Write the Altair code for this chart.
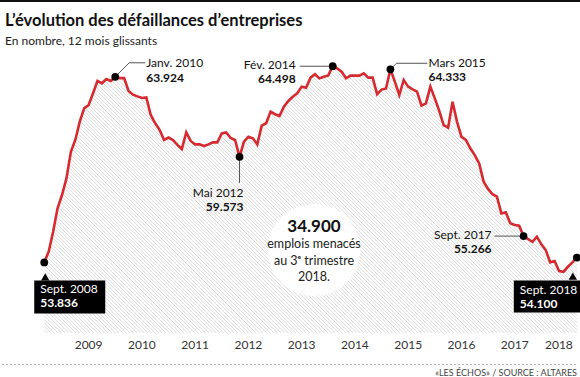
import altair as alt
import pandas as pd

TITLE = "L’évolution des défaillances d’entreprises"
SUBTITLE = "En nombre, 12 mois glissants"
SOURCE = "«LES ÉCHOS» / SOURCE : ALTARES"

# Monthly series (12-month rolling number of business failures), Sept 2008 -> Sept 2018
start_year = 2008
start_month = 9
values = [
    53836, 54420, 55500, 56780, 57500, 58400, 59850, 60490, 61490, 62210, 62390, 63030,
    63700, 63570, 63800, 63700, 63924, 63850, 63850, 63150, 62950, 62860, 62770, 62800,
    61850, 61400, 61040, 60490, 60620, 60490, 60220, 60000, 60910, 60440, 60250, 60250,
    60160, 60250, 60360, 60360, 60850, 60900, 60600, 60490, 59573, 60400, 60670, 60580,
    60250, 61270, 61400, 62030, 61890, 61790, 62300, 62610, 62840, 63030, 63390, 63330,
    63880, 64060, 63840, 63930, 64000, 64498, 64380, 64200, 63840, 63990, 63990, 63990,
    64110, 63880, 63880, 62980, 63230, 63290, 64333, 63660, 62935, 63750, 63390, 63240,
    63120, 62360, 62480, 63390, 62750, 62070, 61300, 61160, 62570, 61490, 60670, 60490,
    60040, 59670, 59220, 58225, 57830, 57540, 57410, 56500, 56560, 55960, 55870, 55830,
    55266, 55110, 54960, 55235, 54820, 54510, 53840, 53910, 53370, 53330, 53600, 53840,
    54100,
]
months = [start_year + (start_month - 1 + i) / 12 for i in range(len(values))]

years = list(range(2009, 2019))
year_labels = [str(y) for y in years]
y_ticks = [50000, 55000, 60000, 65000]

# Annotations
ann_dates = [2008 + 8 / 12, 2010 + 0 / 12, 2012 + 4 / 12, 2014 + 1 / 12,
             2015 + 2 / 12, 2017 + 8 / 12, 2018 + 8 / 12]
ann_values = [53836, 63924, 59573, 64498, 64333, 55266, 54100]
ann_labels = ["Sept. 2008", "Janv. 2010", "Mai 2012", "Fév. 2014",
              "Mars 2015", "Sept. 2017", "Sept. 2018"]
ann_texts = ["53.836", "63.924", "59.573", "64.498", "64.333", "55.266", "54.100"]

CALLOUT_NUM = "34.900"
CALLOUT_LINES = ["emplois menacés", "au 3ᵉ trimestre", "2018."]

FONT = "Lato"
RED = "#d52a2f"
W, H = 537, 276

xscale = alt.Scale(domain=[2008.587, 2018.67], nice=False, zero=False)
yscale = alt.Scale(domain=[50000, 65000], nice=False, zero=False)

df_line = pd.DataFrame({"t": months, "v": values})

X = lambda: alt.X("t:Q", scale=xscale, axis=None)
Y = lambda: alt.Y("v:Q", scale=yscale, axis=None)

# Decorative hatch texture (pixel space), masked above the curve
step = 3.6
n = int((W + H) / step) + 2
hatch_df = pd.DataFrame({
    "x0": [-H + k * step for k in range(n)],
    "x1": [-H + k * step + H for k in range(n)],
    "y0": [0] * n,
    "y1": [H] * n,
})
hatch = alt.Chart(hatch_df).mark_rule(color="#d6d6d6", strokeWidth=0.9, clip=True).encode(
    x=alt.X("x0:Q", scale=None, axis=None), x2=alt.X2("x1"),
    y=alt.Y("y0:Q", scale=None, axis=None), y2=alt.Y2("y1"))

axes = alt.Chart(df_line).mark_area(opacity=0).encode(
    x=alt.X("t:Q", scale=xscale, axis=alt.Axis(
        values=years, labels=False, ticks=True, tickSize=5, tickColor="#222",
        domainColor="#222", domainWidth=1, tickWidth=1, grid=False, title=None)),
    y=alt.Y("v:Q", scale=yscale, axis=alt.Axis(
        values=y_ticks,
        labelExpr="replace(format(datum.value, ','), ',', '.') + ' -'",
        ticks=False, domain=False, grid=False, title=None,
        labelFont=FONT, labelFontSize=11, labelColor="#333",
        offset=-5, labelPadding=0)),
)

mask = alt.Chart(df_line).mark_area(color="white", clip=True).encode(
    x=X(), y=Y(), y2=alt.datum(65200))
left_mask = alt.Chart(pd.DataFrame({"a": [0]})).mark_rect(color="white").encode(
    x=alt.value(0), x2=alt.value(4.6), y=alt.value(0), y2=alt.value(H))

line = alt.Chart(df_line).mark_line(color=RED, strokeWidth=2.6).encode(x=X(), y=Y())

one = pd.DataFrame({"a": [0]})

circle = alt.Chart(one).mark_circle(size=8500, color="white", opacity=1).encode(
    x=alt.value(274), y=alt.value(193))
c_num = alt.Chart(pd.DataFrame({"s": [CALLOUT_NUM]})).mark_text(
    font=FONT, fontSize=17, fontWeight="bold", color="#111", baseline="middle").encode(
    x=alt.value(274), y=alt.value(169.5), text="s:N")
c_lines = []
for k, s in enumerate(CALLOUT_LINES):
    c_lines.append(alt.Chart(pd.DataFrame({"s": [s]})).mark_text(
        font=FONT, fontSize=12.5, color="#222", baseline="middle").encode(
        x=alt.value(274), y=alt.value(187 + 16.5 * k), text="s:N"))

df_years = pd.DataFrame({
    "t": [y + 0.5 for y in years[:-1]] + [years[-1] + 0.33],
    "label": year_labels,
})
year_text = alt.Chart(df_years).mark_text(
    font=FONT, fontSize=12, color="#333", baseline="middle").encode(
    x=X(), y=alt.value(288), text="label:N")

title = alt.Chart(pd.DataFrame({"s": [TITLE]})).mark_text(
    font=FONT, fontSize=16.5, fontWeight="bold", color="#111", align="left",
    baseline="alphabetic").encode(x=alt.value(-35), y=alt.value(-31), text="s:N")
subtitle = alt.Chart(pd.DataFrame({"s": [SUBTITLE]})).mark_text(
    font=FONT, fontSize=12, color="#222", align="left",
    baseline="alphabetic").encode(x=alt.value(-35), y=alt.value(-12), text="s:N")
top_rule = alt.Chart(one).mark_rule(color="#111", strokeWidth=2).encode(
    x=alt.value(-40), x2=alt.value(540), y=alt.value(-56))
bottom_rule = alt.Chart(one).mark_rule(color="#b5b5b5", strokeWidth=1, strokeDash=[2, 2]).encode(
    x=alt.value(-38), x2=alt.value(537), y=alt.value(307.5))
source = alt.Chart(pd.DataFrame({"s": [SOURCE]})).mark_text(
    font=FONT, fontSize=9, color="#444", align="right", baseline="middle").encode(
    x=alt.value(537), y=alt.value(315.5), text="s:N")


def adf(i):
    return pd.DataFrame({"t": [ann_dates[i]], "v": [ann_values[i]],
                         "label": [ann_labels[i]], "val": [ann_texts[i]]})


def dot(i):
    return alt.Chart(adf(i)).mark_circle(size=60, color="black", opacity=1).encode(x=X(), y=Y())


def rule(i, xo, yo, x2o, y2o):
    return alt.Chart(adf(i)).mark_rule(
        color="#555", strokeWidth=1, xOffset=xo, yOffset=yo, x2Offset=x2o, y2Offset=y2o).encode(
        x=X(), y=Y(), x2=alt.X2("t"), y2=alt.Y2("v"))


def labels(i, dx, dy1, dy2, align, color="#111"):
    l1 = alt.Chart(adf(i)).mark_text(
        font=FONT, fontSize=12, color=color, align=align, baseline="middle", dx=dx, dy=dy1).encode(
        x=X(), y=Y(), text="label:N")
    l2 = alt.Chart(adf(i)).mark_text(
        font=FONT, fontSize=12, fontWeight="bold", color=color, align=align, baseline="middle",
        dx=dx, dy=dy2).encode(x=X(), y=Y(), text="val:N")
    return [l1, l2]


def box(i, xo, x2o, yo, y2o, txo, tyo):
    rect = alt.Chart(adf(i)).mark_rect(
        color="black", xOffset=xo, x2Offset=x2o, yOffset=yo, y2Offset=y2o).encode(
        x=X(), y=Y(), x2=alt.X2("t"), y2=alt.Y2("v"))
    tri = alt.Chart(adf(i)).mark_point(
        shape="triangle-up", filled=True, color="black", opacity=1, size=70,
        xOffset=txo, yOffset=tyo).encode(x=X(), y=Y())
    return [rect, tri]


ann_layers = []
# Sept 2008
ann_layers += box(0, -10, 61, 18, 51, 1, 14.5)
ann_layers += labels(0, -4, 27, 41, "left", color="white")
# Janv 2010
ann_layers += [rule(1, 0, 0, 14, -14), rule(1, 14, -14, 30, -14)]
ann_layers += labels(1, 31, -14, 1, "left")
# Mai 2012
ann_layers += [rule(2, 0, 0, 0, 26)]
ann_layers += labels(2, 4, 36, 50, "right")
# Fev 2014
ann_layers += [rule(3, -33, 0, 0, 0)]
ann_layers += labels(3, -37, -1, 13, "right")
# Mars 2015
ann_layers += [rule(4, 0, 0, 6, -6), rule(4, 6, -6, 37, -6)]
ann_layers += labels(4, 38, -6, 8, "left")
# Sept 2017
ann_layers += [rule(5, -29, 0, 0, 0)]
ann_layers += labels(5, -32, -1, 13, "right")
# Sept 2018
ann_layers += box(6, -63, 4, 23, 55, -4, 18.5)
ann_layers += labels(6, -57, 32, 46, "left", color="white")

dots = [dot(i) for i in range(len(ann_dates))]

chart = alt.layer(
    hatch, axes, mask, left_mask, line, circle, c_num, *c_lines, year_text, title, subtitle,
    top_rule, bottom_rule, source, *ann_layers, *dots,
).properties(
    width=W, height=H,
    padding={"left": 40, "top": 57, "right": 3, "bottom": 44},
    autosize=alt.AutoSizeParams(type="none"),
    background="white",
).configure_view(stroke=None)

chart.save("out.html", embed_options={"renderer": "svg", "actions": False})
